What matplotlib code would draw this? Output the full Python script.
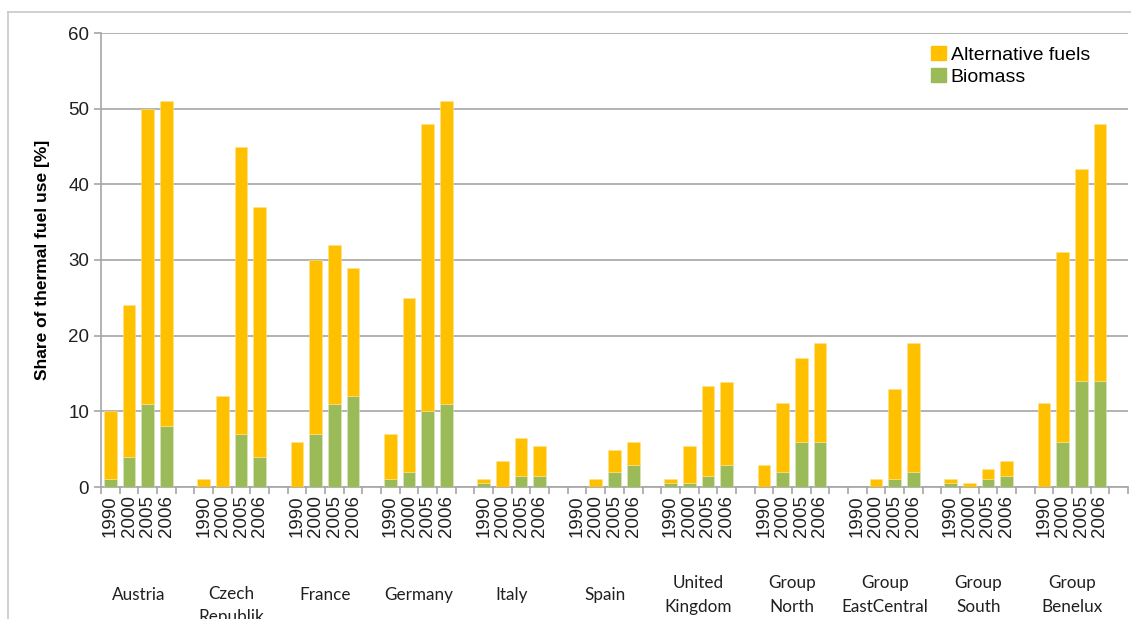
import matplotlib
matplotlib.use("Agg")
import matplotlib.pyplot as plt
from matplotlib.lines import Line2D
from matplotlib.patches import Patch
import numpy as np

groups = ["Austria", "Czech\nRepublik", "France", "Germany", "Italy", "Spain",
          "United\nKingdom", "Group\nNorth", "Group\nEastCentral", "Group\nSouth", "Group\nBenelux"]
years = ["1990", "2000", "2005", "2006"]

# Biomass share [%] per group, years 1990/2000/2005/2006
biomass = [
    [1, 4, 11, 8],
    [0, 0, 7, 4],
    [0, 7, 11, 12],
    [1, 2, 10, 11],
    [0.5, 0, 1.5, 1.5],
    [0, 0, 2, 2.9],
    [0.5, 0.5, 1.5, 2.9],
    [0, 2, 6, 6],
    [0, 0, 1, 2],
    [0.5, 0, 1, 1.5],
    [0, 6, 14, 14],
]
# Total share (biomass + alternative fuels) [%]
total = [
    [10, 24, 50, 51],
    [1, 12, 45, 37],
    [6, 30, 32, 29],
    [7, 25, 48, 51],
    [1, 3.4, 6.5, 5.4],
    [0, 1, 4.9, 5.9],
    [1, 5.4, 13.4, 13.9],
    [2.9, 11.1, 17, 19],
    [0, 1, 13, 19],
    [1, 0.5, 2.4, 3.4],
    [11.1, 31, 42, 48],
]
alternative = [[t - b for t, b in zip(tr, br)] for tr, br in zip(total, biomass)]

YELLOW = "#FFC000"
GREEN = "#9BBB59"
GRID = "#A6A6A6"

fig = plt.figure(figsize=(11.31, 6.19), dpi=100)
ax = fig.add_axes([101/1131, 132/619, 1027/1131, 454/619])

slots = len(years) + 1
xs, bio_vals, alt_vals, labels = [], [], [], []
for gi in range(len(groups)):
    for yi, yr in enumerate(years):
        xs.append(gi * slots + yi)
        bio_vals.append(biomass[gi][yi])
        alt_vals.append(alternative[gi][yi])
        labels.append(yr)
xs = np.array(xs)
bio_vals = np.array(bio_vals)
alt_vals = np.array(alt_vals)

ax.bar(xs, bio_vals, width=0.68, color=GREEN, zorder=3, edgecolor="#DCE8C6", linewidth=0.4)
ax.bar(xs, alt_vals, bottom=bio_vals, width=0.68, color=YELLOW, zorder=3,
       edgecolor="#FFE38A", linewidth=0.4)

n = len(groups) * slots
ax.set_xlim(-0.5, n - 0.5)
ax.set_ylim(0, 60)
ax.set_yticks(range(0, 61, 10))
ax.yaxis.grid(True, color=GRID, linewidth=1.2, zorder=0)
ax.set_axisbelow(True)

ax.set_xticks(xs)
ax.set_xticklabels(labels, rotation=90, fontsize=13.5, family="Liberation Sans", color="#202020")
ax.tick_params(axis="x", which="major", length=0, pad=6)
ax.set_xticks(np.arange(-0.5, n, 1), minor=True)
ax.tick_params(axis="x", which="minor", length=5, color=GRID, width=1.2)
ax.tick_params(axis="y", length=5, color=GRID, width=1.2, labelsize=13.5, labelcolor="#202020")
for lab in ax.get_yticklabels():
    lab.set_family("Liberation Sans")

for s in ["top", "right"]:
    ax.spines[s].set_visible(False)
for s in ["left", "bottom"]:
    ax.spines[s].set_color(GRID)
    ax.spines[s].set_linewidth(1.2)

ax.set_ylabel("Share of thermal fuel use [%]", fontsize=12.5, fontweight="bold",
              family="Liberation Sans", labelpad=13)

trans = ax.get_xaxis_transform()
for gi, g in enumerate(groups):
    cx = gi * slots + 1.5
    if g.startswith("Czech"):
        ax.text(cx, (487 - 586) / 454, g, transform=trans, ha="center", va="top",
                fontsize=12.3, family="Lato", color="#202020", linespacing=1.55)
    else:
        ax.text(cx, (487 - 595) / 454, g, transform=trans, ha="center", va="center",
                fontsize=12.3, family="Lato", color="#202020", linespacing=1.55)

handles = [Patch(color=YELLOW, label="Alternative fuels"), Patch(color=GREEN, label="Biomass")]
leg = ax.legend(handles=handles, loc="upper right", bbox_to_anchor=(0.98, 1.01), frameon=False,
                prop={"family": "Liberation Sans", "size": 14}, handlelength=0.75,
                handleheight=0.75, handletextpad=0.25, labelspacing=0.2)

# outer chart border
fig.add_artist(Line2D([8/1131, 1], [1 - 12/619, 1 - 12/619], color="#C8C8C8", linewidth=1.2))
fig.add_artist(Line2D([8/1131, 8/1131], [0, 1 - 12/619], color="#C8C8C8", linewidth=1.2))

fig.savefig("out.png", dpi=100)
